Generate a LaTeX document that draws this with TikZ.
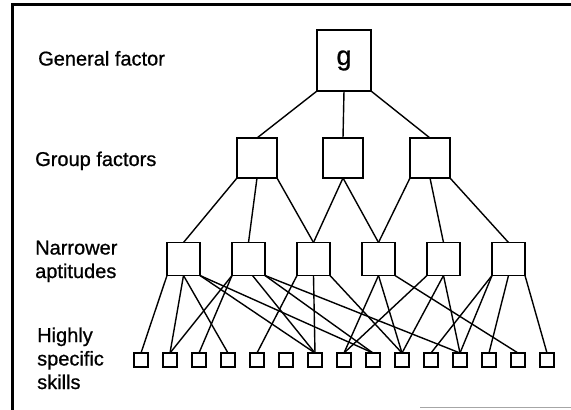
\documentclass[tikz,border=0pt]{standalone}
\usepackage{fontspec}
\setmainfont{Liberation Sans}
\newfontfamily\lblfont[FakeBold=0.8]{Liberation Sans}
\begin{document}
\begin{tikzpicture}[x=1pt,y=-1pt,
  box/.style={draw, line width=1.6pt, inner sep=0pt, outer sep=0pt},
  gbox/.style={box, minimum width=54pt, minimum height=61pt, font=\lblfont\fontsize{27}{30}\selectfont},
  grp/.style={box, minimum size=40pt},
  nar/.style={box, minimum size=33pt},
  skl/.style={box, line width=1.4pt, minimum size=14pt},
  conn/.style={line width=1.4pt},
  lbl/.style={anchor=base west, inner sep=0pt, font=\lblfont\fontsize{20}{23.5}\selectfont, align=left}]
\useasboundingbox (0,0) rectangle (571,410);
% frame
\draw[line width=2.2pt] (12.5,410) -- (12.5,4.5) -- (571,4.5);
\draw[black!35, line width=0.8pt] (420,407) -- (571,407);
% labels (base anchor = baseline of the last line)
\node[lbl] (lg) at (38,65.5) {General factor};
\node[lbl] (lgr) at (35,166) {Group factors};
\node[lbl] (lna) at (35,278) {Narrower\\aptitudes};
\node[lbl] (lsk) at (37,389) {Highly\\specific\\skills};
% boxes
\node[gbox] (g) at (344,60.5) {g};
\node[grp] (G1) at (257,158) {};
\node[grp] (G2) at (343,158) {};
\node[grp] (G3) at (430,158) {};
\foreach \i in {1,...,6}{
  \node[nar] (N\i) at ({183.5+65*(\i-1)},259) {};
}
\foreach \i in {1,...,15}{
  \node[skl] (S\i) at ({141+29*(\i-1)},360) {};
}
% connectors
\draw[conn] (g.south west) -- (G1.north);
\draw[conn] (g.south) -- (G2.north);
\draw[conn] (g.south east) -- (G3.north);
\draw[conn] (G1.south west) -- (N1.north);
\draw[conn] (G1.south) -- (N2.north);
\draw[conn] (G1.south east) -- (N3.north);
\draw[conn] (G2.south) -- (N3.north);
\draw[conn] (G2.south) -- (N4.north);
\draw[conn] (G3.south west) -- (N4.north);
\draw[conn] (G3.south) -- (N5.north);
\draw[conn] (G3.south east) -- (N6.north);
\draw[conn] (N1.south west) -- (S1.north);
\draw[conn] (N1.south) -- (S2.north);
\draw[conn] (N1.south) -- (S4.north);
\draw[conn] (N1.south east) -- (S7.north);
\draw[conn] (N1.south east) -- (S9.north);
\draw[conn] (N2.south west) -- (S2.north);
\draw[conn] (N2.south west) -- (S3.north);
\draw[conn] ([xshift=4pt]N2.south) -- (S7.north);
\draw[conn] (N2.south east) -- (S9.north);
\draw[conn] (N2.south east) -- (S12.north);
\draw[conn] (N3.south west) -- (S5.north);
\draw[conn] (N3.south) -- (S7.north);
\draw[conn] (N3.south east) -- (S10.north);
\draw[conn] (N4.south) -- (S8.north);
\draw[conn] (N4.south) -- (S10.north);
\draw[conn] (N4.south east) -- (S14.north);
\draw[conn] (N5.south west) -- (S8.north);
\draw[conn] (N5.south) -- (S10.north);
\draw[conn] (N5.south) -- (S12.north);
\draw[conn] (N6.south west) -- (S11.north);
\draw[conn] (N6.south west) -- (S12.north);
\draw[conn] (N6.south) -- (S13.north);
\draw[conn] (N6.south east) -- (S15.north);
\end{tikzpicture}
\end{document}
